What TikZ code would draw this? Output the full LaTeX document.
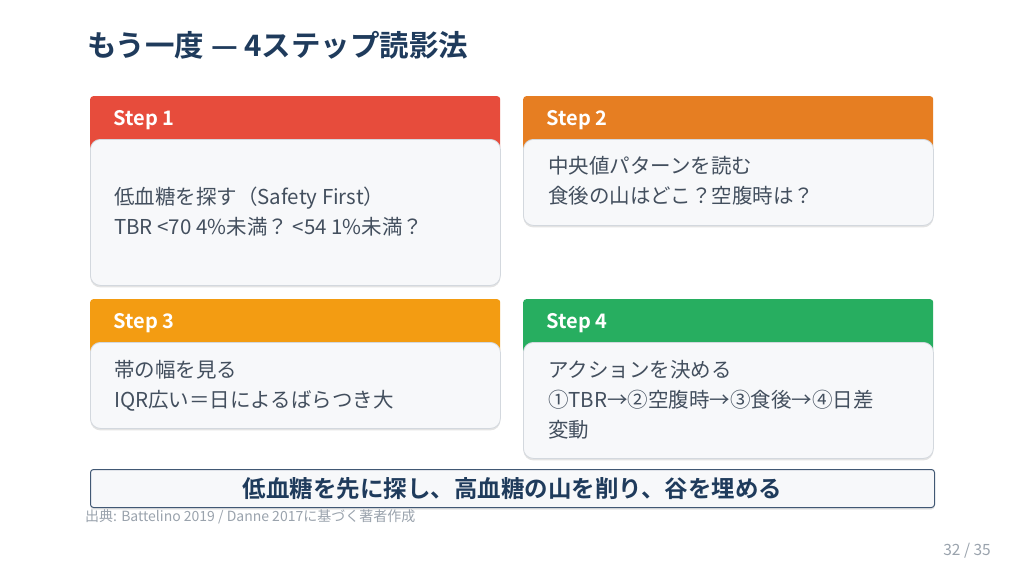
\documentclass[tikz,border=0pt]{standalone}
\usepackage{fontspec}
\setmainfont{Noto Sans CJK JP}
\newfontfamily\jpbold{Noto Sans CJK JP Bold}
\usetikzlibrary{shadows}

\definecolor{titlenavy}{HTML}{1F3B5C}
\definecolor{bodygray}{HTML}{434F5E}
\definecolor{cardfill}{HTML}{F7F8FA}
\definecolor{cardline}{HTML}{D3D8DE}
\definecolor{steprot}{HTML}{E74C3C}
\definecolor{steporange}{HTML}{E67E22}
\definecolor{stepamber}{HTML}{F39C12}
\definecolor{stepgreen}{HTML}{27AE60}
\definecolor{notegray}{HTML}{9AA3AD}

\tikzset{
  stephead/.style={rectangle, rounded corners=3pt, anchor=north west, inner sep=0pt,
    minimum width=410pt, minimum height=54pt, fill=#1},
  steplabel/.style={anchor=west, text=white, font=\jpbold\fontsize{20}{22}\selectfont},
  stepcard/.style={rectangle, rounded corners=10pt, anchor=north west, inner sep=0pt,
    minimum width=410pt, fill=cardfill, draw=cardline, line width=0.8pt,
    drop shadow={opacity=0.22, shadow xshift=0pt, shadow yshift=-2pt}},
  steptext/.style={anchor=north west, align=left, inner sep=0pt, text=bodygray,
    font=\fontsize{20.5}{30}\selectfont}
}

\begin{document}
\begin{tikzpicture}[x=1pt, y=-1pt]
    \useasboundingbox[fill=white] (0,0) rectangle (1024,576);

    % Title
    \node[anchor=west, inner sep=0pt, text=titlenavy, font=\jpbold\fontsize{29.5}{32}\selectfont] (title) at (87,45) {もう一度 — 4ステップ読影法};

    % Step 1
    \node[stephead=steprot] (head1) at (90,96) {};
    \node[steplabel] (lab1) at (110,120) {Step 1};
    \node[stepcard, minimum height=146pt] (card1) at (90,139) {};
    \node[steptext] (txt1) at (114,187) {低血糖を探す（Safety First）\\TBR <70 4\%未満？ <54 1\%未満？};

    % Step 2
    \node[stephead=steporange] (head2) at (523,96) {};
    \node[steplabel] (lab2) at (543,120) {Step 2};
    \node[stepcard, minimum height=86pt] (card2) at (523,139) {};
    \node[steptext] (txt2) at (548,156) {中央値パターンを読む\\食後の山はどこ？空腹時は？};

    % Step 3
    \node[stephead=stepamber] (head3) at (90,299) {};
    \node[steplabel] (lab3) at (110,323) {Step 3};
    \node[stepcard, minimum height=86pt] (card3) at (90,342) {};
    \node[steptext] (txt3) at (114,360) {帯の幅を見る\\IQR広い＝日によるばらつき大};

    % Step 4
    \node[stephead=stepgreen] (head4) at (523,299) {};
    \node[steplabel] (lab4) at (543,323) {Step 4};
    \node[stepcard, minimum height=116pt] (card4) at (523,342) {};
    \node[steptext] (txt4) at (548,360) {アクションを決める\\①TBR→②空腹時→③食後→④日差\\変動};

    % Summary bar
    \node[rectangle, rounded corners=3pt, anchor=north west, minimum width=844pt, minimum height=38pt,
      fill=cardfill, draw=titlenavy!85, line width=1pt,
      drop shadow={opacity=0.2, shadow xshift=0pt, shadow yshift=-2pt}] (summary) at (90,469) {};
    \node[text=titlenavy, font=\jpbold\fontsize{23.5}{26}\selectfont] (sumtext) at (summary.center) {低血糖を先に探し、高血糖の山を削り、谷を埋める};

    % Source and page
    \node[anchor=west, inner sep=0pt, text=notegray, font=\fontsize{14}{16}\selectfont] (source) at (85,517) {出典: Battelino 2019 / Danne 2017に基づく著者作成};
    \node[anchor=east, inner sep=0pt, text=notegray, font=\fontsize{15.5}{17}\selectfont] (page) at (991,551) {32 / 35};

\end{tikzpicture}
\end{document}
